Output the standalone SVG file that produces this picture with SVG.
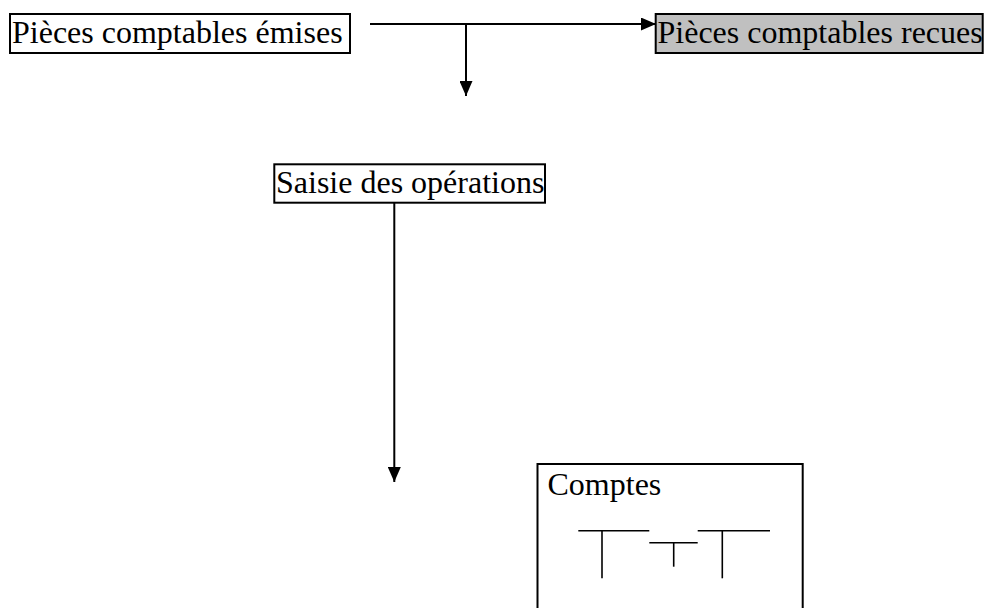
<svg xmlns="http://www.w3.org/2000/svg" width="984" height="608" viewBox="0 0 984 608">
<style>
.box{fill:#fff;stroke:#000;stroke-width:2}
.gray{fill:#c0c0c0;stroke:#000;stroke-width:2}
.t{font-family:"Liberation Serif","Times New Roman",serif;font-size:32px;fill:#000}
.c{stroke:#000;stroke-width:2;fill:none}
.l{stroke:#000;stroke-width:1.6;fill:none}
</style>
<defs>
<marker id="ah" viewBox="0 0 15 13" refX="15" refY="6.5" markerWidth="15" markerHeight="13" markerUnits="userSpaceOnUse" orient="auto">
<path d="M0,0 L15,6.5 L0,13 Z" fill="#000"/>
</marker>
</defs>
<rect width="984" height="608" fill="#fff"/>
<g id="connectors">
<line class="c" x1="370" y1="24" x2="656" y2="24" marker-end="url(#ah)"/>
<line class="c" x1="466" y1="24" x2="466" y2="96" marker-end="url(#ah)"/>
<line class="c" x1="394.3" y1="197" x2="394.3" y2="482" marker-end="url(#ah)"/>
</g>
<g id="node-emises">
<rect class="box" x="10" y="14" width="340" height="39"/>
<text class="t" x="12" y="43">Pièces comptables émises</text>
</g>
<g id="node-recues">
<rect class="gray" x="655.7" y="14" width="327" height="39"/>
<text class="t" x="657.5" y="43">Pièces comptables recues</text>
</g>
<g id="node-saisie">
<rect class="box" x="274.3" y="164.3" width="270.7" height="38.4"/>
<text class="t" x="276" y="193">Saisie des opérations</text>
</g>
<g id="node-comptes">
<rect class="box" x="537.5" y="464" width="265.2" height="160"/>
<text class="t" x="547.5" y="495">Comptes</text>
<line class="l" x1="578.3" y1="530.7" x2="649.3" y2="530.7"/>
<line class="l" x1="602" y1="530.7" x2="602" y2="578.3"/>
<line class="l" x1="649.3" y1="542.7" x2="697.7" y2="542.7"/>
<line class="l" x1="673.7" y1="542.7" x2="673.7" y2="566.7"/>
<line class="l" x1="697.7" y1="530.7" x2="770" y2="530.7"/>
<line class="l" x1="722.3" y1="530.7" x2="722.3" y2="578.3"/>
</g>
</svg>
